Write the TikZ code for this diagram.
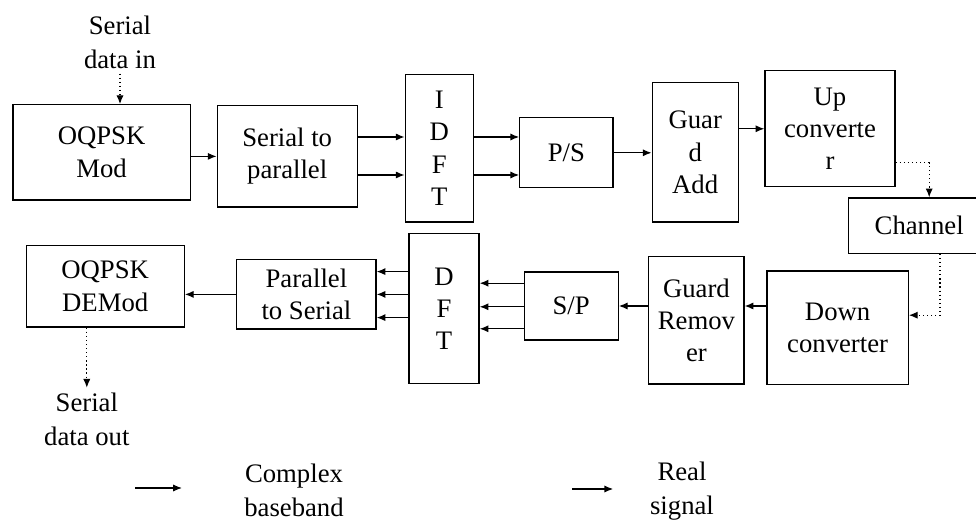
\documentclass[tikz,border=0pt]{standalone}
\usepackage{fontspec}
\setmainfont{Liberation Serif}
\usetikzlibrary{arrows.meta}

\begin{document}
\begin{tikzpicture}[
    ofdm_block/.style={shape=rectangle,draw,line width=0.9pt,align=center,font=\fontsize{19}{23}\selectfont},
    ofdm_text/.style={align=center,font=\fontsize{19}{24}\selectfont},
    ofdm_sig/.style={line width=0.9pt,-{Latex[length=2.2mm,width=1.8mm]}},
    ofdm_air/.style={ofdm_sig,dotted}
  ]
    \useasboundingbox (0,0) rectangle (24.4,13.05);
    \node[ofdm_block,minimum width=4.43cm,minimum height=2.38cm] (mod) at (2.54,9.24) {OQPSK\\Mod};
    \node[ofdm_block,minimum width=3.5cm,minimum height=2.53cm] (s2p) at (7.18,9.14) {Serial to\\parallel};
    \node[ofdm_block,minimum width=1.7cm,minimum height=3.68cm] (idft) at (10.98,9.34) {I\\D\\F\\T};
    \node[ofdm_block,minimum width=2.33cm,minimum height=1.75cm] (ps) at (14.16,9.23) {P/S};
    \node[ofdm_block,minimum width=2.15cm,minimum height=3.48cm] (gadd) at (17.38,9.24) {Guar\\d\\Add};
    \node[ofdm_block,minimum width=3.25cm,minimum height=2.9cm] (up) at (20.75,9.83) {Up\\converte\\r};
    \node[ofdm_block,minimum width=3.55cm,minimum height=1.38cm] (chan) at (22.98,7.41) {Channel};
    \node[ofdm_block,minimum width=3.53cm,minimum height=2.83cm] (down) at (20.94,4.86) {Down\\converter};
    \node[ofdm_block,minimum width=2.38cm,minimum height=3.18cm] (grem) at (17.41,5.04) {Guard\\Remov\\er};
    \node[ofdm_block,minimum width=2.35cm,minimum height=1.7cm] (sp) at (14.28,5.4) {S/P};
    \node[ofdm_block,minimum width=1.75cm,minimum height=3.75cm] (dft) at (11.1,5.33) {D\\F\\T};
    \node[ofdm_block,minimum width=3.48cm,minimum height=1.73cm] (p2s) at (7.66,5.69) {Parallel\\to Serial};
    \node[ofdm_block,minimum width=3.95cm,minimum height=2.03cm] (demod) at (2.63,5.89) {OQPSK\\DEMod};
    \node[ofdm_text] (datain) at (3.0,11.99) {Serial\\data in};
    \node[ofdm_text] (dataout) at (2.17,2.575) {Serial\\data out};
    \node[ofdm_text] (cbtext) at (7.35,0.8) {Complex\\baseband};
    \node[ofdm_text] (rstext) at (17.05,0.78) {Real\\signal};
    \coordinate (hi) at (0,9.625);
    \coordinate (lo) at (0,8.675);
    \coordinate (cb1) at (3.375,0.85);
    \coordinate (cb2) at (4.55,0.85);
    \coordinate (rs1) at (14.3,0.825);
    \coordinate (rs2) at (15.33,0.825);
    \draw[ofdm_air] (datain.south) to (datain.south |- mod.north);
    \draw[ofdm_sig] (mod.east |- s2p) to (s2p.west);
    \draw[ofdm_sig] (s2p.east |- hi) to (idft.west |- hi);
    \draw[ofdm_sig] (s2p.east |- lo) to (idft.west |- lo);
    \draw[ofdm_sig] (idft.east |- hi) to (ps.west |- hi);
    \draw[ofdm_sig] (idft.east |- lo) to (ps.west |- lo);
    \draw[ofdm_sig] (ps.east) to (ps.east -| gadd.west);
    \draw[ofdm_sig] (gadd.east |- up) to (up.west);
    \draw[ofdm_air] ([yshift=-0.85cm]up.east) -| ([xshift=0.25cm]chan.north);
    \draw[ofdm_air] ([xshift=0.52cm]chan.south) |- ([yshift=0.31cm]down.east);
    \draw[ofdm_sig] (down.west |- sp) to (grem.east |- sp);
    \draw[ofdm_sig] (grem.west |- sp) to (sp.east);
    \draw[ofdm_sig] ([yshift=0.57cm]sp.west) to ([yshift=0.57cm]sp.west -| dft.east);
    \draw[ofdm_sig] ([yshift=-0.02cm]sp.west) to ([yshift=-0.02cm]sp.west -| dft.east);
    \draw[ofdm_sig] ([yshift=-0.57cm]sp.west) to ([yshift=-0.57cm]sp.west -| dft.east);
    \draw[ofdm_sig] ([yshift=0.57cm]dft.west |- p2s) to ([yshift=0.57cm]p2s.east);
    \draw[ofdm_sig] (dft.west |- p2s) to (p2s.east);
    \draw[ofdm_sig] ([yshift=-0.58cm]dft.west |- p2s) to ([yshift=-0.58cm]p2s.east);
    \draw[ofdm_sig] (p2s.west) to (p2s.west -| demod.east);
    \draw[ofdm_air] (dataout.north |- demod.south) to (dataout.north);
    \draw[ofdm_sig] (cb1) to (cb2);
    \draw[ofdm_sig] (rs1) to (rs2);
\end{tikzpicture}
\end{document}
